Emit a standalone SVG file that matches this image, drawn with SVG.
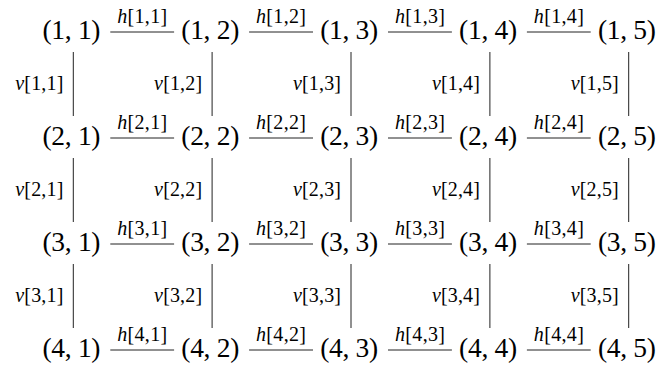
<svg xmlns="http://www.w3.org/2000/svg" width="657" height="369" viewBox="0 0 657 369">
<style>
.n{font-family:"Liberation Serif","Times New Roman",serif;font-size:27.5px;fill:#000;text-anchor:middle}
.l{font-family:"Liberation Serif","Times New Roman",serif;font-size:20px;fill:#000}
.h{text-anchor:middle}
.v{text-anchor:end}
.i{font-style:italic}
.e{stroke:#222;stroke-width:1;fill:none}
</style>
<rect width="657" height="369" fill="#fff"/>
<g id="nodes">
<g id="n11"><text class="n" x="71.5" y="39" textLength="58" lengthAdjust="spacing">(1, 1)</text></g>
<g id="n12"><text class="n" x="210.3" y="39" textLength="58" lengthAdjust="spacing">(1, 2)</text></g>
<g id="n13"><text class="n" x="349.2" y="39" textLength="58" lengthAdjust="spacing">(1, 3)</text></g>
<g id="n14"><text class="n" x="488.1" y="39" textLength="58" lengthAdjust="spacing">(1, 4)</text></g>
<g id="n15"><text class="n" x="626.9" y="39" textLength="58" lengthAdjust="spacing">(1, 5)</text></g>
<g id="n21"><text class="n" x="71.5" y="145" textLength="58" lengthAdjust="spacing">(2, 1)</text></g>
<g id="n22"><text class="n" x="210.3" y="145" textLength="58" lengthAdjust="spacing">(2, 2)</text></g>
<g id="n23"><text class="n" x="349.2" y="145" textLength="58" lengthAdjust="spacing">(2, 3)</text></g>
<g id="n24"><text class="n" x="488.1" y="145" textLength="58" lengthAdjust="spacing">(2, 4)</text></g>
<g id="n25"><text class="n" x="626.9" y="145" textLength="58" lengthAdjust="spacing">(2, 5)</text></g>
<g id="n31"><text class="n" x="71.5" y="251" textLength="58" lengthAdjust="spacing">(3, 1)</text></g>
<g id="n32"><text class="n" x="210.3" y="251" textLength="58" lengthAdjust="spacing">(3, 2)</text></g>
<g id="n33"><text class="n" x="349.2" y="251" textLength="58" lengthAdjust="spacing">(3, 3)</text></g>
<g id="n34"><text class="n" x="488.1" y="251" textLength="58" lengthAdjust="spacing">(3, 4)</text></g>
<g id="n35"><text class="n" x="626.9" y="251" textLength="58" lengthAdjust="spacing">(3, 5)</text></g>
<g id="n41"><text class="n" x="71.5" y="357" textLength="58" lengthAdjust="spacing">(4, 1)</text></g>
<g id="n42"><text class="n" x="210.3" y="357" textLength="58" lengthAdjust="spacing">(4, 2)</text></g>
<g id="n43"><text class="n" x="349.2" y="357" textLength="58" lengthAdjust="spacing">(4, 3)</text></g>
<g id="n44"><text class="n" x="488.1" y="357" textLength="58" lengthAdjust="spacing">(4, 4)</text></g>
<g id="n45"><text class="n" x="626.9" y="357" textLength="58" lengthAdjust="spacing">(4, 5)</text></g>
</g>
<g id="connectors">
<g id="horizontal">
<path class="e" d="M110.3 32H174.1M249.1 32H313M388 32H451.9M526.9 32H590.7"/>
<path class="e" d="M110.3 138H174.1M249.1 138H313M388 138H451.9M526.9 138H590.7"/>
<path class="e" d="M110.3 244H174.1M249.1 244H313M388 244H451.9M526.9 244H590.7"/>
<path class="e" d="M110.3 350H174.1M249.1 350H313M388 350H451.9M526.9 350H590.7"/>
<text class="l h" x="142.2" y="23" textLength="50" lengthAdjust="spacing"><tspan class="i">h</tspan>[1,1]</text>
<text class="l h" x="281" y="23" textLength="50" lengthAdjust="spacing"><tspan class="i">h</tspan>[1,2]</text>
<text class="l h" x="420" y="23" textLength="50" lengthAdjust="spacing"><tspan class="i">h</tspan>[1,3]</text>
<text class="l h" x="558.8" y="23" textLength="50" lengthAdjust="spacing"><tspan class="i">h</tspan>[1,4]</text>
<text class="l h" x="142.2" y="129" textLength="50" lengthAdjust="spacing"><tspan class="i">h</tspan>[2,1]</text>
<text class="l h" x="281" y="129" textLength="50" lengthAdjust="spacing"><tspan class="i">h</tspan>[2,2]</text>
<text class="l h" x="420" y="129" textLength="50" lengthAdjust="spacing"><tspan class="i">h</tspan>[2,3]</text>
<text class="l h" x="558.8" y="129" textLength="50" lengthAdjust="spacing"><tspan class="i">h</tspan>[2,4]</text>
<text class="l h" x="142.2" y="235" textLength="50" lengthAdjust="spacing"><tspan class="i">h</tspan>[3,1]</text>
<text class="l h" x="281" y="235" textLength="50" lengthAdjust="spacing"><tspan class="i">h</tspan>[3,2]</text>
<text class="l h" x="420" y="235" textLength="50" lengthAdjust="spacing"><tspan class="i">h</tspan>[3,3]</text>
<text class="l h" x="558.8" y="235" textLength="50" lengthAdjust="spacing"><tspan class="i">h</tspan>[3,4]</text>
<text class="l h" x="142.2" y="341" textLength="50" lengthAdjust="spacing"><tspan class="i">h</tspan>[4,1]</text>
<text class="l h" x="281" y="341" textLength="50" lengthAdjust="spacing"><tspan class="i">h</tspan>[4,2]</text>
<text class="l h" x="420" y="341" textLength="50" lengthAdjust="spacing"><tspan class="i">h</tspan>[4,3]</text>
<text class="l h" x="558.8" y="341" textLength="50" lengthAdjust="spacing"><tspan class="i">h</tspan>[4,4]</text>
</g>
<g id="vertical">
<path class="e" d="M73.3 52V116M212.1 52V116M351 52V116M489.9 52V116M628.7 52V116"/>
<path class="e" d="M73.3 158V222M212.1 158V222M351 158V222M489.9 158V222M628.7 158V222"/>
<path class="e" d="M73.3 264V328M212.1 264V328M351 264V328M489.9 264V328M628.7 264V328"/>
<text class="l v" x="63.3" y="90" textLength="48" lengthAdjust="spacing"><tspan class="i">v</tspan>[1,1]</text>
<text class="l v" x="202.1" y="90" textLength="48" lengthAdjust="spacing"><tspan class="i">v</tspan>[1,2]</text>
<text class="l v" x="341" y="90" textLength="48" lengthAdjust="spacing"><tspan class="i">v</tspan>[1,3]</text>
<text class="l v" x="479.9" y="90" textLength="48" lengthAdjust="spacing"><tspan class="i">v</tspan>[1,4]</text>
<text class="l v" x="618.7" y="90" textLength="48" lengthAdjust="spacing"><tspan class="i">v</tspan>[1,5]</text>
<text class="l v" x="63.3" y="196" textLength="48" lengthAdjust="spacing"><tspan class="i">v</tspan>[2,1]</text>
<text class="l v" x="202.1" y="196" textLength="48" lengthAdjust="spacing"><tspan class="i">v</tspan>[2,2]</text>
<text class="l v" x="341" y="196" textLength="48" lengthAdjust="spacing"><tspan class="i">v</tspan>[2,3]</text>
<text class="l v" x="479.9" y="196" textLength="48" lengthAdjust="spacing"><tspan class="i">v</tspan>[2,4]</text>
<text class="l v" x="618.7" y="196" textLength="48" lengthAdjust="spacing"><tspan class="i">v</tspan>[2,5]</text>
<text class="l v" x="63.3" y="302" textLength="48" lengthAdjust="spacing"><tspan class="i">v</tspan>[3,1]</text>
<text class="l v" x="202.1" y="302" textLength="48" lengthAdjust="spacing"><tspan class="i">v</tspan>[3,2]</text>
<text class="l v" x="341" y="302" textLength="48" lengthAdjust="spacing"><tspan class="i">v</tspan>[3,3]</text>
<text class="l v" x="479.9" y="302" textLength="48" lengthAdjust="spacing"><tspan class="i">v</tspan>[3,4]</text>
<text class="l v" x="618.7" y="302" textLength="48" lengthAdjust="spacing"><tspan class="i">v</tspan>[3,5]</text>
</g>
</g>
</svg>
